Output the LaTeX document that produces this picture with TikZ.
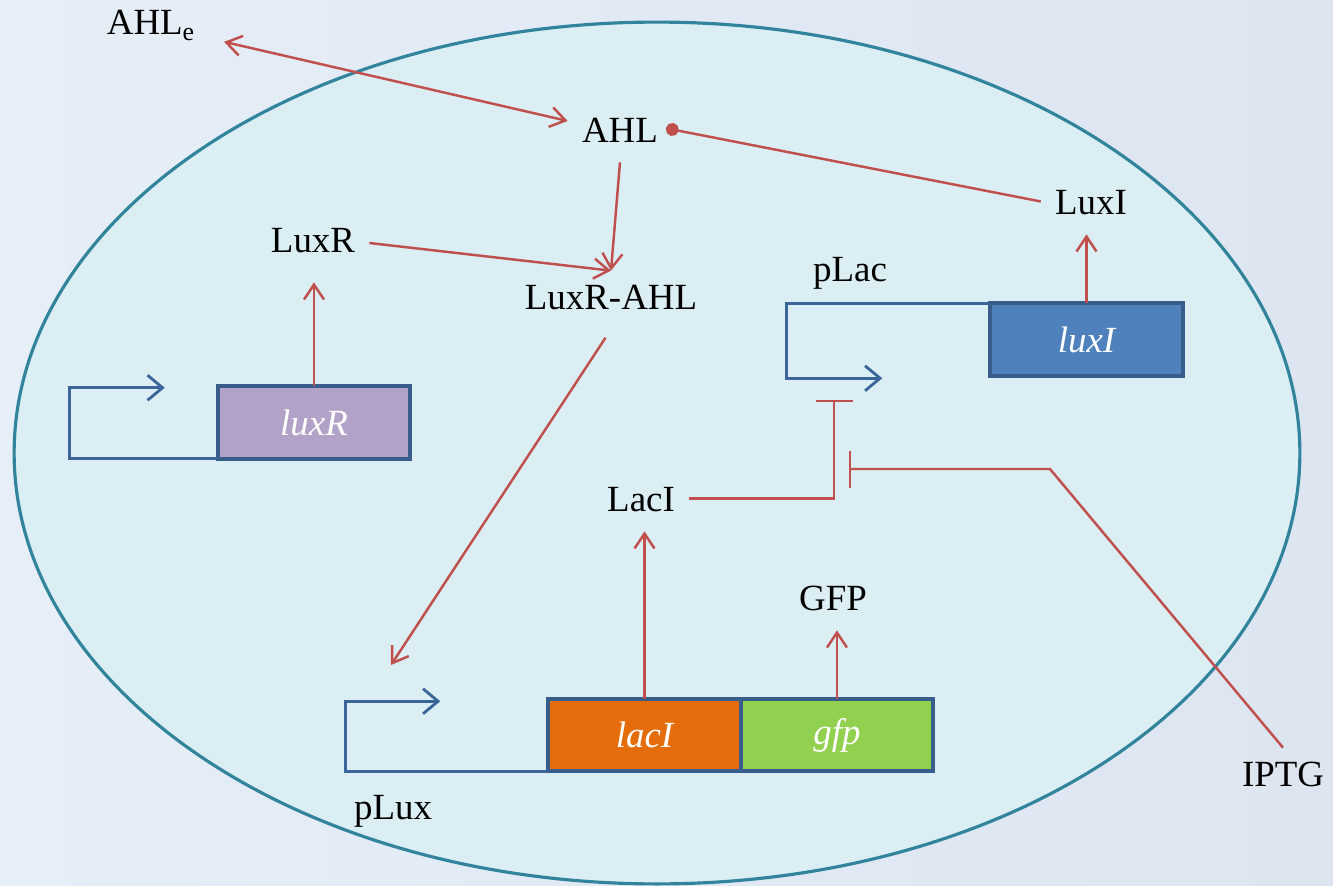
\documentclass[tikz,border=0pt]{standalone}
\usepackage{fontspec}
\setmainfont{Liberation Serif}
\usepackage{tikz}
\usetikzlibrary{arrows.meta,positioning,calc}
\definecolor{bgpale}{HTML}{E6EEF8}
\definecolor{bgdeep}{HTML}{DCE5F0}
\definecolor{cellfill}{HTML}{DBEEF3}
\definecolor{celledge}{HTML}{31849B}
\definecolor{rxred}{HTML}{C0504D}
\definecolor{dnablue}{HTML}{3A6599}
\definecolor{boxedge}{HTML}{385D8A}
\definecolor{luxIblue}{HTML}{4F81BD}
\definecolor{luxRpurple}{HTML}{B3A2C7}
\definecolor{lacIorange}{HTML}{E46C0A}
\definecolor{gfpgreen}{HTML}{92D050}
\tikzset{
  lbl/.style={font=\fontsize{21}{24}\selectfont,inner xsep=8pt,inner ysep=8pt,text height=14pt,text depth=3pt},
  gene/.style={draw=boxedge,line width=2.2pt,minimum width=3.85cm,minimum height=1.45cm,outer sep=0pt,
               font=\fontsize{21}{24}\selectfont\itshape,text=white},
  dna/.style={draw=dnablue,line width=1.6pt},
  dnaarr/.style={dna,-{Straight Barb[length=3mm,width=5mm]}},
  act/.style={rxred,line width=1.4pt,-{Straight Barb[length=3mm,width=4mm]}},
  exch/.style={act,{Straight Barb[length=3mm,width=4mm]}-{Straight Barb[length=3mm,width=4mm]}},
  bind/.style={rxred,line width=1.4pt,-{Circle[length=2.6mm]}},
  repr/.style={rxred,line width=1.4pt,-{Bar[width=7.4mm]}},
}
\begin{document}
\begin{tikzpicture}[x=0.02cm,y=-0.02cm]
  \shade[left color=bgpale,right color=bgdeep] (0,0) rectangle (1333,886);
  \useasboundingbox (0,0) rectangle (1333,886);
  % cell
  \draw[celledge,fill=cellfill,line width=1.8pt] (657,453) ellipse [x radius=12.86cm,y radius=8.62cm];

  % species
  \node[lbl] (AHLe) at (151,25) {AHL\textsubscript{e}};
  \node[lbl] (AHL) at (620,133) {AHL};
  \node[lbl] (LuxI) at (1091,205) {LuxI};
  \node[lbl] (LuxR) at (313,243) {LuxR};
  \node[lbl] (LuxRAHL) at (611,300) {LuxR-AHL};
  \node[lbl] (pLac) at (850,272) {pLac};
  \node[lbl] (LacI) at (641,502) {LacI};
  \node[lbl] (GFP) at (833,601) {GFP};
  \node[lbl] (pLux) at (393,810) {pLux};
  \node[lbl] (IPTG) at (1283,777) {IPTG};
  \coordinate (pLuxSite) at (391,665);
  \coordinate (pLacBlock) at (834,400);
  \coordinate (IPTGbend) at (1050,469);
  \coordinate (IPTGhit) at (849,469);

  % genes and promoters
  \node[gene,fill=luxRpurple] (luxRg) at (314,422.5) {luxR};
  \node[gene,fill=luxIblue] (luxIg) at (1086.5,339.5) {luxI};
  \node[gene,fill=lacIorange] (lacIg) at (644.5,735) {lacI};
  \node[gene,fill=gfpgreen,right=0pt of lacIg] (gfpg) {gfp};
  \draw[dnaarr] (luxRg.south west) -| ++(-148,-71) -- ++(95,0);
  \draw[dnaarr] (luxIg.north west) -| ++(-204,75) -- ++(96,0);
  \draw[dnaarr] (lacIg.south west) -| ++(-203,-70) -- ++(95,0);

  % reactions
  \draw[exch,shorten <=3mm] (AHLe) -- (AHL);
  \draw[bind,shorten >=-1.3mm] ([yshift=2pt]LuxI.west) -- ([yshift=2pt]AHL.east);
  \draw[act] (AHL.south) -- (LuxRAHL.north);
  \draw[act] (LuxR.east) -- (LuxRAHL.north);
  \draw[act,shorten <=2mm] (LuxRAHL.south) -- (pLuxSite);
  \draw[act,shorten >=2mm] (luxRg.north) -- (luxRg.north |- LuxR.south);
  \draw[act] (luxIg.north) -- (luxIg.north |- LuxI.south);
  \draw[act] (lacIg.north) -- (lacIg.north |- LacI.south);
  \draw[act] (gfpg.north) -- (gfpg.north |- GFP.south);
  \draw[repr] ([yshift=2pt]LacI.east) -| (pLacBlock);
  \draw[repr] (IPTG.north) -- (IPTGbend) -- (IPTGhit);
\end{tikzpicture}
\end{document}
